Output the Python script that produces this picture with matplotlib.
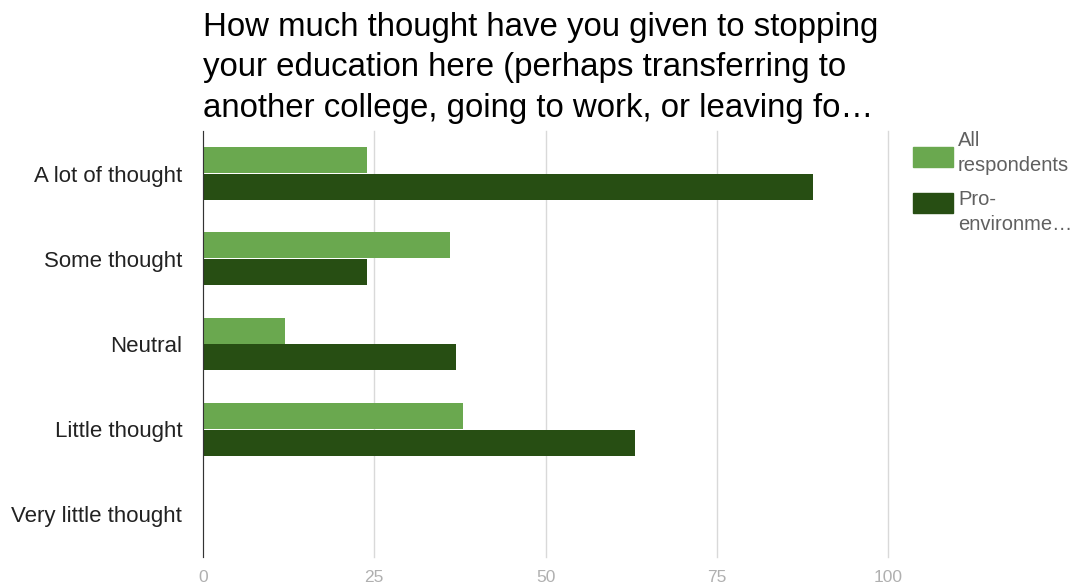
import numpy as np
import matplotlib.pyplot as plt

categories = ['A lot of thought', 'Some thought', 'Neutral', 'Little thought', 'Very little thought']
all_respondents = [24, 36, 12, 38, 0]
pro_environment = [89, 24, 37, 63, 0]
x_ticks = [0, 25, 50, 75, 100]
title = ('How much thought have you given to stopping\n'
         'your education here (perhaps transferring to\n'
         'another college, going to work, or leaving fo\u2026')

plt.rcParams['font.family'] = ['Liberation Sans', 'DejaVu Sans']

fig = plt.figure(figsize=(10.77, 5.88), dpi=100)
ax = fig.add_axes([203 / 1077, 1 - 557 / 588, 685 / 1077, 426 / 588])

y = np.arange(len(categories))
h = 0.305
ax.barh(y - h / 2 - 0.005, all_respondents, height=h, color='#6aa84f', zorder=3)
ax.barh(y + h / 2 + 0.005, pro_environment, height=h, color='#274e13', zorder=3)

ax.set_xlim(0, 100)
ax.set_ylim(len(categories) - 0.5, -0.5)
ax.set_xticks(x_ticks)
ax.set_xticklabels([str(t) for t in x_ticks], color='#b0b0b0', fontsize=12.5)
ax.set_yticks(y)
ax.set_yticklabels(categories, color='#222222', fontsize=16)
ax.tick_params(length=0)
ax.tick_params(axis='y', pad=15)
ax.tick_params(axis='x', pad=9)
ax.grid(axis='x', color='#d9d9d9', linewidth=1, zorder=0)
for gl in ax.get_xgridlines():
    gl.set_clip_on(False)
for s in ['top', 'right', 'bottom']:
    ax.spines[s].set_visible(False)
ax.spines['left'].set_color('#333333')
ax.spines['left'].set_zorder(4)

fig.text(203 / 1077, 1 - 12 / 588, title, fontsize=23.8, va='top', ha='left',
         color='#000000', linespacing=1.39)

# legend
fig.patches.append(plt.Rectangle((913 / 1077, 1 - 167 / 588), 40 / 1077, 20 / 588,
                                 transform=fig.transFigure, color='#6aa84f'))
fig.patches.append(plt.Rectangle((913 / 1077, 1 - 213 / 588), 40 / 1077, 20 / 588,
                                 transform=fig.transFigure, color='#274e13'))
fig.text(958 / 1077, 1 - 131 / 588, 'All\nrespondents', fontsize=14.5, va='top',
         color='#606060', linespacing=1.4)
fig.text(958 / 1077, 1 - 190 / 588, 'Pro-\nenvironme\u2026', fontsize=14.5, va='top',
         color='#606060', linespacing=1.4)

fig.savefig('out.png', dpi=100, facecolor='white')
